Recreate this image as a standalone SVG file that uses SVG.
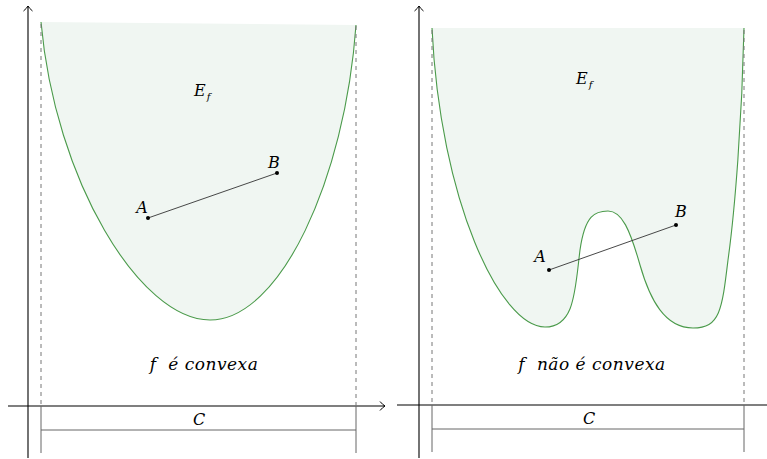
<svg xmlns="http://www.w3.org/2000/svg" width="767" height="459" viewBox="0 0 767 459">
<style>
.axis{stroke:#000;stroke-width:1.1;fill:none}
.dash{stroke:#777;stroke-width:1;stroke-dasharray:4,4;fill:none}
.brk{stroke:#666;stroke-width:1;fill:none}
.fill{fill:#f0f6f2;stroke:none}
.curve{fill:none;stroke:#4a9a4a;stroke-width:1.1}
.seg{stroke:#333;stroke-width:0.9}
.pt{fill:#000}
.m{font-family:'DejaVu Serif',serif;font-style:italic;font-size:16px;fill:#000}
.cap{font-size:17px;letter-spacing:0.5px}
.s{font-size:10px}
</style>
<defs>
<marker id="arr" viewBox="-6 -5 7 10" markerWidth="7" markerHeight="10" refX="0" refY="0" orient="auto" markerUnits="userSpaceOnUse">
<path d="M-5,-4.5 Q-2,-1 0,0 Q-2,1 -5,4.5" fill="none" stroke="#000" stroke-width="1"/>
</marker>
</defs>

<g id="left-region">
<path class="fill" d="M41,22 C55,180 140,320 210,320 C280,320 345,180 356,25 Z"/>
<path class="curve" d="M41,22 C55,180 140,320 210,320 C280,320 345,180 356,25"/>
</g>
<g id="right-region">
<path class="fill" d="M432,28 C440,200 500,327 545,327 C575,327 575,290 580,250 C585,215 595,211 608,211 C622,211 630,230 640,265 C650,300 665,328 693,328 C720,328 722,310 728,260 C735,210 742,120 744,28 Z"/>
<path class="curve" d="M432,28 C440,200 500,327 545,327 C575,327 575,290 580,250 C585,215 595,211 608,211 C622,211 630,230 640,265 C650,300 665,328 693,328 C720,328 722,310 728,260 C735,210 742,120 744,28"/>
</g>

<g id="connectors">
<line class="axis" x1="28" y1="458" x2="28" y2="6" marker-end="url(#arr)"/>
<line class="axis" x1="8" y1="406" x2="385" y2="406" marker-end="url(#arr)"/>
<line class="axis" x1="419" y1="458" x2="419" y2="6" marker-end="url(#arr)"/>
<line class="axis" x1="397" y1="405" x2="767" y2="405"/>
<line class="dash" x1="41" y1="24" x2="41" y2="406"/>
<line class="dash" x1="356" y1="26" x2="356" y2="406"/>
<line class="dash" x1="432" y1="30" x2="432" y2="405"/>
<line class="dash" x1="744" y1="30" x2="744" y2="405"/>
<path class="brk" d="M41,406 V453 M356,406 V453 M41,430 H356"/>
<path class="brk" d="M432,405 V452 M744,405 V452 M432,429 H744"/>
<line class="seg" x1="148" y1="218" x2="277" y2="173"/>
<line class="seg" x1="549" y1="270" x2="676" y2="225"/>
</g>

<g id="points">
<circle class="pt" cx="148" cy="218" r="2"/>
<circle class="pt" cx="277" cy="173" r="2"/>
<circle class="pt" cx="549" cy="270" r="2"/>
<circle class="pt" cx="676" cy="225" r="2"/>
</g>

<g id="labels">
<text class="m" x="142" y="213" text-anchor="middle">A</text>
<text class="m" x="274" y="168" text-anchor="middle">B</text>
<text class="m" x="540" y="262" text-anchor="middle">A</text>
<text class="m" x="681" y="217" text-anchor="middle">B</text>
<text class="m" x="194" y="96">E<tspan class="s" dx="1" dy="4">f</tspan></text>
<text class="m" x="576" y="84">E<tspan class="s" dx="1" dy="4">f</tspan></text>
<text class="m cap" x="204" y="370" text-anchor="middle" xml:space="preserve">f  é convexa</text>
<text class="m cap" x="592" y="370" text-anchor="middle" xml:space="preserve">f  não é convexa</text>
<text class="m" x="199" y="425" text-anchor="middle">C</text>
<text class="m" x="589" y="424" text-anchor="middle">C</text>
</g>
</svg>
